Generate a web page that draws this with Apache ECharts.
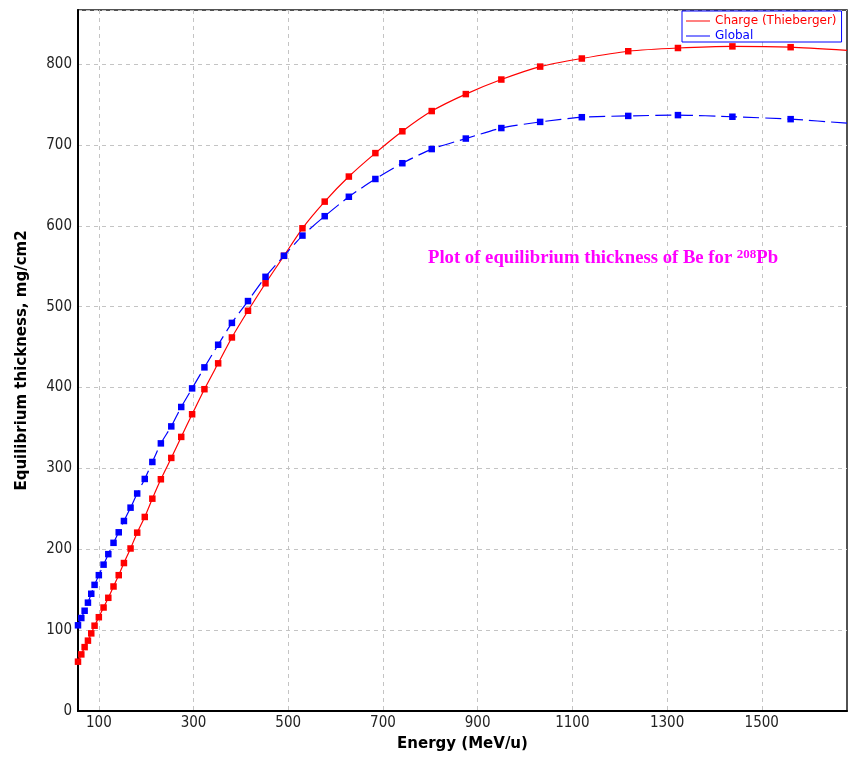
<!DOCTYPE html>
<html>
<head>
<meta charset="utf-8">
<script src="https://cdn.jsdelivr.net/npm/echarts@6/dist/echarts.min.js"></script>
<style>
  html, body { margin: 0; padding: 0; background: #ffffff; }
  #chart { width: 849px; height: 759px; }
</style>
</head>
<body>
<div id="chart"></div>
<script>
// Beam energy per nucleon (MeV/u) at each computed point
const energy = [56, 63, 70, 77, 84, 91, 100, 110, 120, 131, 142, 153, 167, 181, 197, 213, 231, 253, 274, 297,
                323, 352, 381, 415, 452, 491, 530, 577, 628, 684, 741, 803, 875, 950, 1032, 1120, 1218, 1323, 1438, 1561];

// Equilibrium thickness of Be (mg/cm2), charge-state model of Thieberger
const chargeThieberger = [61, 70, 79, 87, 96, 105.5, 116, 128, 140, 154, 168, 183, 201, 220.6, 240, 262.6, 286.6, 313, 339, 367,
                          398, 430, 462, 495, 529, 563, 597, 630, 661, 690, 717, 742, 763, 781, 797, 807, 816, 820, 822, 821];

// Equilibrium thickness of Be (mg/cm2), GLOBAL code
const global = [106, 115, 124, 134, 145, 156, 168, 181, 194, 208, 221, 235, 251.5, 269, 287, 308, 331, 352, 376, 399,
                425, 453, 480, 507, 537, 563, 588, 612, 636, 658, 677.5, 695, 708, 721, 728.6, 734.4, 736, 737, 735, 732];

// Curves continue past the last marked point up to the edge of the energy range
const curveEndEnergy = 1680;
const chargeThiebergerEnd = 817;
const globalEnd = 727;

// Axis ranges and tick labels
const energyMin = 56;
const energyMax = 1680;
const energyTicks = [100, 300, 500, 700, 900, 1100, 1300, 1500];
const thicknessMax = 867;
const thicknessStep = 100;

const seriesNames = ['Charge (Thieberger)', 'Global'];

function buildPoints(values, endValue) {
  const pts = energy.map((e, i) => [e, values[i]]);
  pts.push({ value: [curveEndEnergy, endValue], symbol: 'none' });
  return pts;
}

const labelFont = 'DejaVu Sans Condensed, DejaVu Sans, sans-serif';
const plainNumber = v => String(v);

const chart = echarts.init(document.getElementById('chart'), null, { renderer: 'canvas' });

chart.setOption({
  animation: false,
  backgroundColor: '#ffffff',
  grid: {
    left: 78, top: 10, width: 769, height: 701,
    show: true, borderColor: '#1a1a1a', borderWidth: 1.5, backgroundColor: 'transparent'
  },
  xAxis: {
    type: 'value',
    min: energyMin,
    max: energyMax,
    name: 'Energy (MeV/u)',
    nameLocation: 'middle',
    nameGap: 26,
    nameTextStyle: { fontFamily: 'DejaVu Sans', fontWeight: 'bold', fontSize: 15, color: '#000' },
    axisLine: { lineStyle: { color: '#000', width: 2 } },
    axisTick: { show: false, customValues: energyTicks },
    axisLabel: { customValues: energyTicks, formatter: plainNumber, fontFamily: labelFont, fontSize: 15, color: '#222', margin: 5 },
    splitLine: { show: true, lineStyle: { color: '#c4c4c4', width: 1, type: [4, 4] } }
  },
  yAxis: {
    type: 'value',
    min: 0,
    max: thicknessMax,
    interval: thicknessStep,
    name: 'Equilibrium thickness, mg/cm2',
    nameLocation: 'middle',
    nameGap: 48,
    nameTextStyle: { fontFamily: 'DejaVu Sans', fontWeight: 'bold', fontSize: 15, color: '#000' },
    axisLine: { show: true, lineStyle: { color: '#000', width: 2 } },
    axisTick: { show: false },
    axisLabel: { showMaxLabel: false, formatter: plainNumber, fontFamily: labelFont, fontSize: 15, color: '#222', margin: 6 },
    splitLine: { show: true, lineStyle: { color: '#c4c4c4', width: 1, type: [4, 4] } }
  },
  legend: {
    orient: 'vertical',
    left: 682,
    top: 11,
    backgroundColor: '#ffffff',
    borderColor: '#0000ff',
    borderWidth: 1,
    borderRadius: 0,
    padding: [4, 5, 0, 4],
    itemGap: 3,
    itemWidth: 24,
    itemHeight: 1,
    icon: 'rect',
    selectedMode: false,
    textStyle: { fontFamily: 'DejaVu Sans', fontSize: 12 },
    data: [
      { name: seriesNames[0], textStyle: { color: '#ff0000' } },
      { name: seriesNames[1], textStyle: { color: '#0000ff' } }
    ],
    z: 10
  },
  graphic: [{
    type: 'text',
    left: 428,
    top: 248,
    z: 20,
    style: {
      text: '{a|Plot of equilibrium thickness of Be for }{s|208}{a|Pb}',
      fill: '#ff00ff',
      rich: {
        a: { fontFamily: 'Liberation Serif, Times New Roman, serif', fontWeight: 'bold', fontSize: 18.7, lineHeight: 20, fill: '#ff00ff', verticalAlign: 'bottom' },
        s: { fontFamily: 'Liberation Serif, Times New Roman, serif', fontWeight: 'bold', fontSize: 13, lineHeight: 12, fill: '#ff00ff', verticalAlign: 'top' }
      }
    }
  }],
  series: [
    {
      name: seriesNames[0],
      type: 'line',
      data: buildPoints(chargeThieberger, chargeThiebergerEnd),
      smooth: 0.2,
      symbol: 'rect',
      symbolSize: 6.5,
      showAllSymbol: true,
      lineStyle: { color: '#ff0000', width: 1.2 },
      itemStyle: { color: '#ff0000' },
      z: 3
    },
    {
      name: seriesNames[1],
      type: 'line',
      data: buildPoints(global, globalEnd),
      smooth: 0.2,
      symbol: 'rect',
      symbolSize: 6.5,
      showAllSymbol: true,
      lineStyle: { color: '#0000ff', width: 1.2, type: [16, 6] },
      itemStyle: { color: '#0000ff' },
      z: 4
    }
  ]
});
</script>
</body>
</html>
